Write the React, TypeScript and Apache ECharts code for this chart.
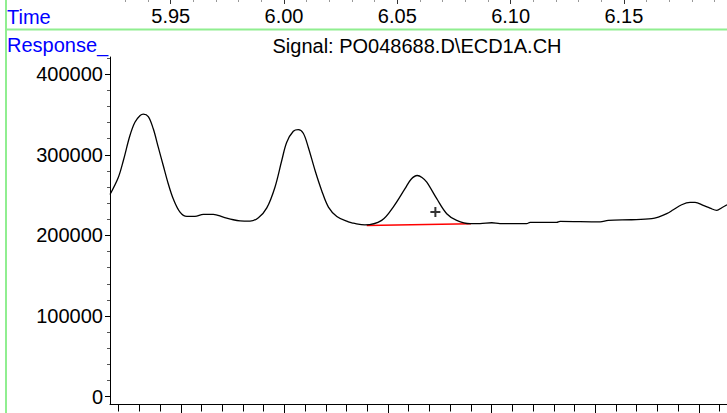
import React, { useEffect, useRef } from "react";
import * as echarts from "echarts";

// Chromatogram trace (time in minutes, response in counts)
const times = [
  5.9232, 5.9269, 5.9291, 5.932, 5.9342, 5.9365, 5.9379, 5.9401, 5.9423, 5.9445,
  5.9467, 5.9489, 5.9511, 5.9541, 5.9571, 5.9607, 5.9644, 5.9688, 5.9732, 5.9776,
  5.9806, 5.985, 5.9887, 5.9924, 5.996, 5.999, 6.0012, 6.0041, 6.0063, 6.0085,
  6.0107, 6.0137, 6.0166, 6.0196, 6.0233, 6.0284, 6.0306, 6.0357, 6.0431, 6.0482,
  6.0534, 6.056, 6.0588, 6.0609, 6.063, 6.0674, 6.0718, 6.0762, 6.0821, 6.0865,
  6.0917, 6.0953, 6.1071, 6.1086, 6.1203, 6.1218, 6.1395, 6.1431, 6.1534, 6.1623,
  6.1652, 6.1689, 6.1718, 6.1755, 6.1792, 6.1814, 6.185, 6.188, 6.191, 6.1932, 6.1955,
];
const responses = [
  250900, 272300, 293000, 324000, 340500, 348800, 350600, 347500, 332300, 309500,
  286800, 264200, 245600, 229000, 223600, 223600, 226100, 226100, 222800, 219500,
  218100, 217800, 222000, 234200, 259900, 293000, 315700, 329300, 331400, 326800,
  309500, 280600, 255900, 235200, 223600, 216800, 215300, 213100, 218700, 235200,
  258000, 269500, 274400, 272000, 266100, 245600, 227000, 218700, 214600, 214600,
  215800, 214600, 214600, 216200, 216200, 217400, 216800, 218700, 219500, 220800,
  222800, 227000, 231900, 238100, 241000, 241000, 237300, 233900, 231100, 234400, 238100,
];

// Integration baseline of the labelled peak
const baselineTimes = [6.0365, 6.0825];
const baselineValues = [212500, 214600];

// Peak annotation
const peakLabel = "7.814";
const peakTime = 6.0588;
const peakValue = 274400;
const markerTime = 6.0668;
const markerValue = 229000;

// Axis ticks
const topTickLabels = [5.95, 6.0, 6.05, 6.1, 6.15];
const topMinorTicks = [
  5.93, 5.94, 5.96, 5.97, 5.98, 5.99, 6.01, 6.02, 6.03, 6.04, 6.06, 6.07, 6.08,
  6.09, 6.11, 6.12, 6.13, 6.14, 6.16, 6.17, 6.18, 6.19,
];
const yTickLabels = [0, 100000, 200000, 300000, 400000];
const yMinorTicks = [
  20000, 40000, 60000, 80000, 120000, 140000, 160000, 180000, 220000, 240000,
  260000, 280000, 320000, 340000, 360000, 380000, 420000,
];
const bottomTicks = [
  -3, -2, -1, 0, 1, 2, 3, 4, 5, 6, 7, 8, 9, 10, 11, 12, 13, 14, 15, 16, 17, 18,
  19, 20, 21, 22, 23, 24, 25, 26,
];
const bottomMajorTicks = [0, 5, 10, 15, 20, 25];

const FONT = "'Liberation Sans', Arial, sans-serif";

export default function App() {
  const ref = useRef<HTMLDivElement>(null);

  useEffect(() => {
    if (!ref.current) return;
    const chart = echarts.init(ref.current, null, { renderer: "svg" });
    const xMin = 5.9232;
    const xMax = 6.1955;
    const yMin = -9700;
    const yMax = 421400;
    chart.setOption({
      animation: false,
      backgroundColor: "#ffffff",
      grid: { left: 110, top: 57, right: 0, height: 347.5, containLabel: false },
      xAxis: [
        {
          type: "value",
          position: "top",
          offset: 57,
          min: xMin,
          max: xMax,
          axisLine: { show: false, onZero: false },
          axisTick: {
            show: true,
            inside: true,
            length: 4,
            customValues: topTickLabels,
            lineStyle: { color: "#333" },
          },
          axisLabel: {
            show: true,
            inside: true,
            margin: 6,
            customValues: topTickLabels,
            formatter: (v: number) => v.toFixed(2),
            color: "#000",
            fontSize: 20,
            fontFamily: FONT,
          },
          splitLine: { show: false },
        },
        {
          type: "value",
          position: "top",
          offset: 57,
          min: xMin,
          max: xMax,
          axisLine: { show: false, onZero: false },
          axisTick: {
            show: true,
            inside: true,
            length: 2,
            customValues: topMinorTicks,
            lineStyle: { color: "#999" },
          },
          axisLabel: { show: false },
          splitLine: { show: false },
        },
        {
          type: "value",
          position: "bottom",
          min: -3.417,
          max: 26.36,
          axisLine: { show: true, onZero: false, lineStyle: { color: "#000", width: 1 } },
          axisTick: {
            show: true,
            length: 7,
            customValues: bottomTicks,
            lineStyle: { color: "#000" },
          },
          axisLabel: { show: false },
          splitLine: { show: false },
        },
        {
          type: "value",
          position: "bottom",
          min: -3.417,
          max: 26.36,
          axisLine: { show: false, onZero: false },
          axisTick: {
            show: true,
            length: 9,
            customValues: bottomMajorTicks,
            lineStyle: { color: "#000" },
          },
          axisLabel: { show: false },
          splitLine: { show: false },
        },
      ],
      yAxis: [
        {
          type: "value",
          position: "left",
          min: yMin,
          max: yMax,
          axisLine: { show: true, onZero: false, lineStyle: { color: "#000", width: 1 } },
          axisTick: {
            show: true,
            length: 5,
            customValues: yTickLabels,
            lineStyle: { color: "#000" },
          },
          axisLabel: {
            show: true,
            margin: 7,
            customValues: yTickLabels,
            formatter: (v: number) => String(v),
            color: "#000",
            fontSize: 20,
            fontFamily: FONT,
          },
          splitLine: { show: false },
        },
        {
          type: "value",
          position: "left",
          min: yMin,
          max: yMax,
          axisLine: { show: false, onZero: false },
          axisTick: {
            show: true,
            length: 3,
            customValues: yMinorTicks,
            lineStyle: { color: "#555" },
          },
          axisLabel: { show: false },
          splitLine: { show: false },
        },
      ],
      series: [
        {
          type: "line",
          xAxisIndex: 0,
          yAxisIndex: 0,
          data: times.map((t, i) => [t, responses[i]]),
          showSymbol: false,
          symbol: "none",
          smooth: 0.35,
          lineStyle: { color: "#000", width: 1.3 },
          z: 3,
        },
        {
          type: "line",
          xAxisIndex: 0,
          yAxisIndex: 0,
          data: baselineTimes.map((t, i) => [t, baselineValues[i]]),
          symbol: "none",
          lineStyle: { color: "#ff0000", width: 1.5 },
          z: 2,
        },
        {
          type: "scatter",
          xAxisIndex: 0,
          yAxisIndex: 0,
          data: [[peakTime, peakValue]],
          symbol: "none",
          label: {
            show: true,
            position: "top",
            distance: 3,
            formatter: () => peakLabel,
            color: "#0000ff",
            fontSize: 20,
            fontFamily: FONT,
          },
          z: 4,
        },
        {
          type: "scatter",
          xAxisIndex: 0,
          yAxisIndex: 0,
          data: [[markerTime, markerValue]],
          symbol: "path://M4,0h2v4h4v2h-4v4h-2v-4h-4v-2h4z",
          symbolSize: 10,
          itemStyle: { color: "#000" },
          z: 4,
        },
      ],
      graphic: [
        {
          type: "line",
          shape: { x1: 6, y1: 0, x2: 6, y2: 413 },
          style: { stroke: "#90ee90", lineWidth: 2 },
        },
        {
          type: "line",
          shape: { x1: 6, y1: 29.5, x2: 727, y2: 29.5 },
          style: { stroke: "#90ee90", lineWidth: 2 },
        },
        {
          type: "text",
          x: 7,
          y: 16.5,
          style: {
            text: "Time",
            fill: "#0000ff",
            fontSize: 20,
            fontFamily: FONT,
            verticalAlign: "middle",
            align: "left",
          },
        },
        {
          type: "text",
          x: 7,
          y: 45,
          style: {
            text: "Response_",
            fill: "#0000ff",
            fontSize: 20,
            fontFamily: FONT,
            verticalAlign: "middle",
            align: "left",
          },
        },
        {
          type: "text",
          x: 417,
          y: 45.5,
          style: {
            text: "Signal: PO048688.D\\ECD1A.CH",
            fill: "#000",
            fontSize: 20,
            fontFamily: FONT,
            verticalAlign: "middle",
            align: "center",
          },
        },
      ],
    });
    return () => chart.dispose();
  }, []);

  return (
    <div
      ref={ref}
      style={{ position: "fixed", left: 0, top: 0, width: 727, height: 413 }}
    />
  );
}
